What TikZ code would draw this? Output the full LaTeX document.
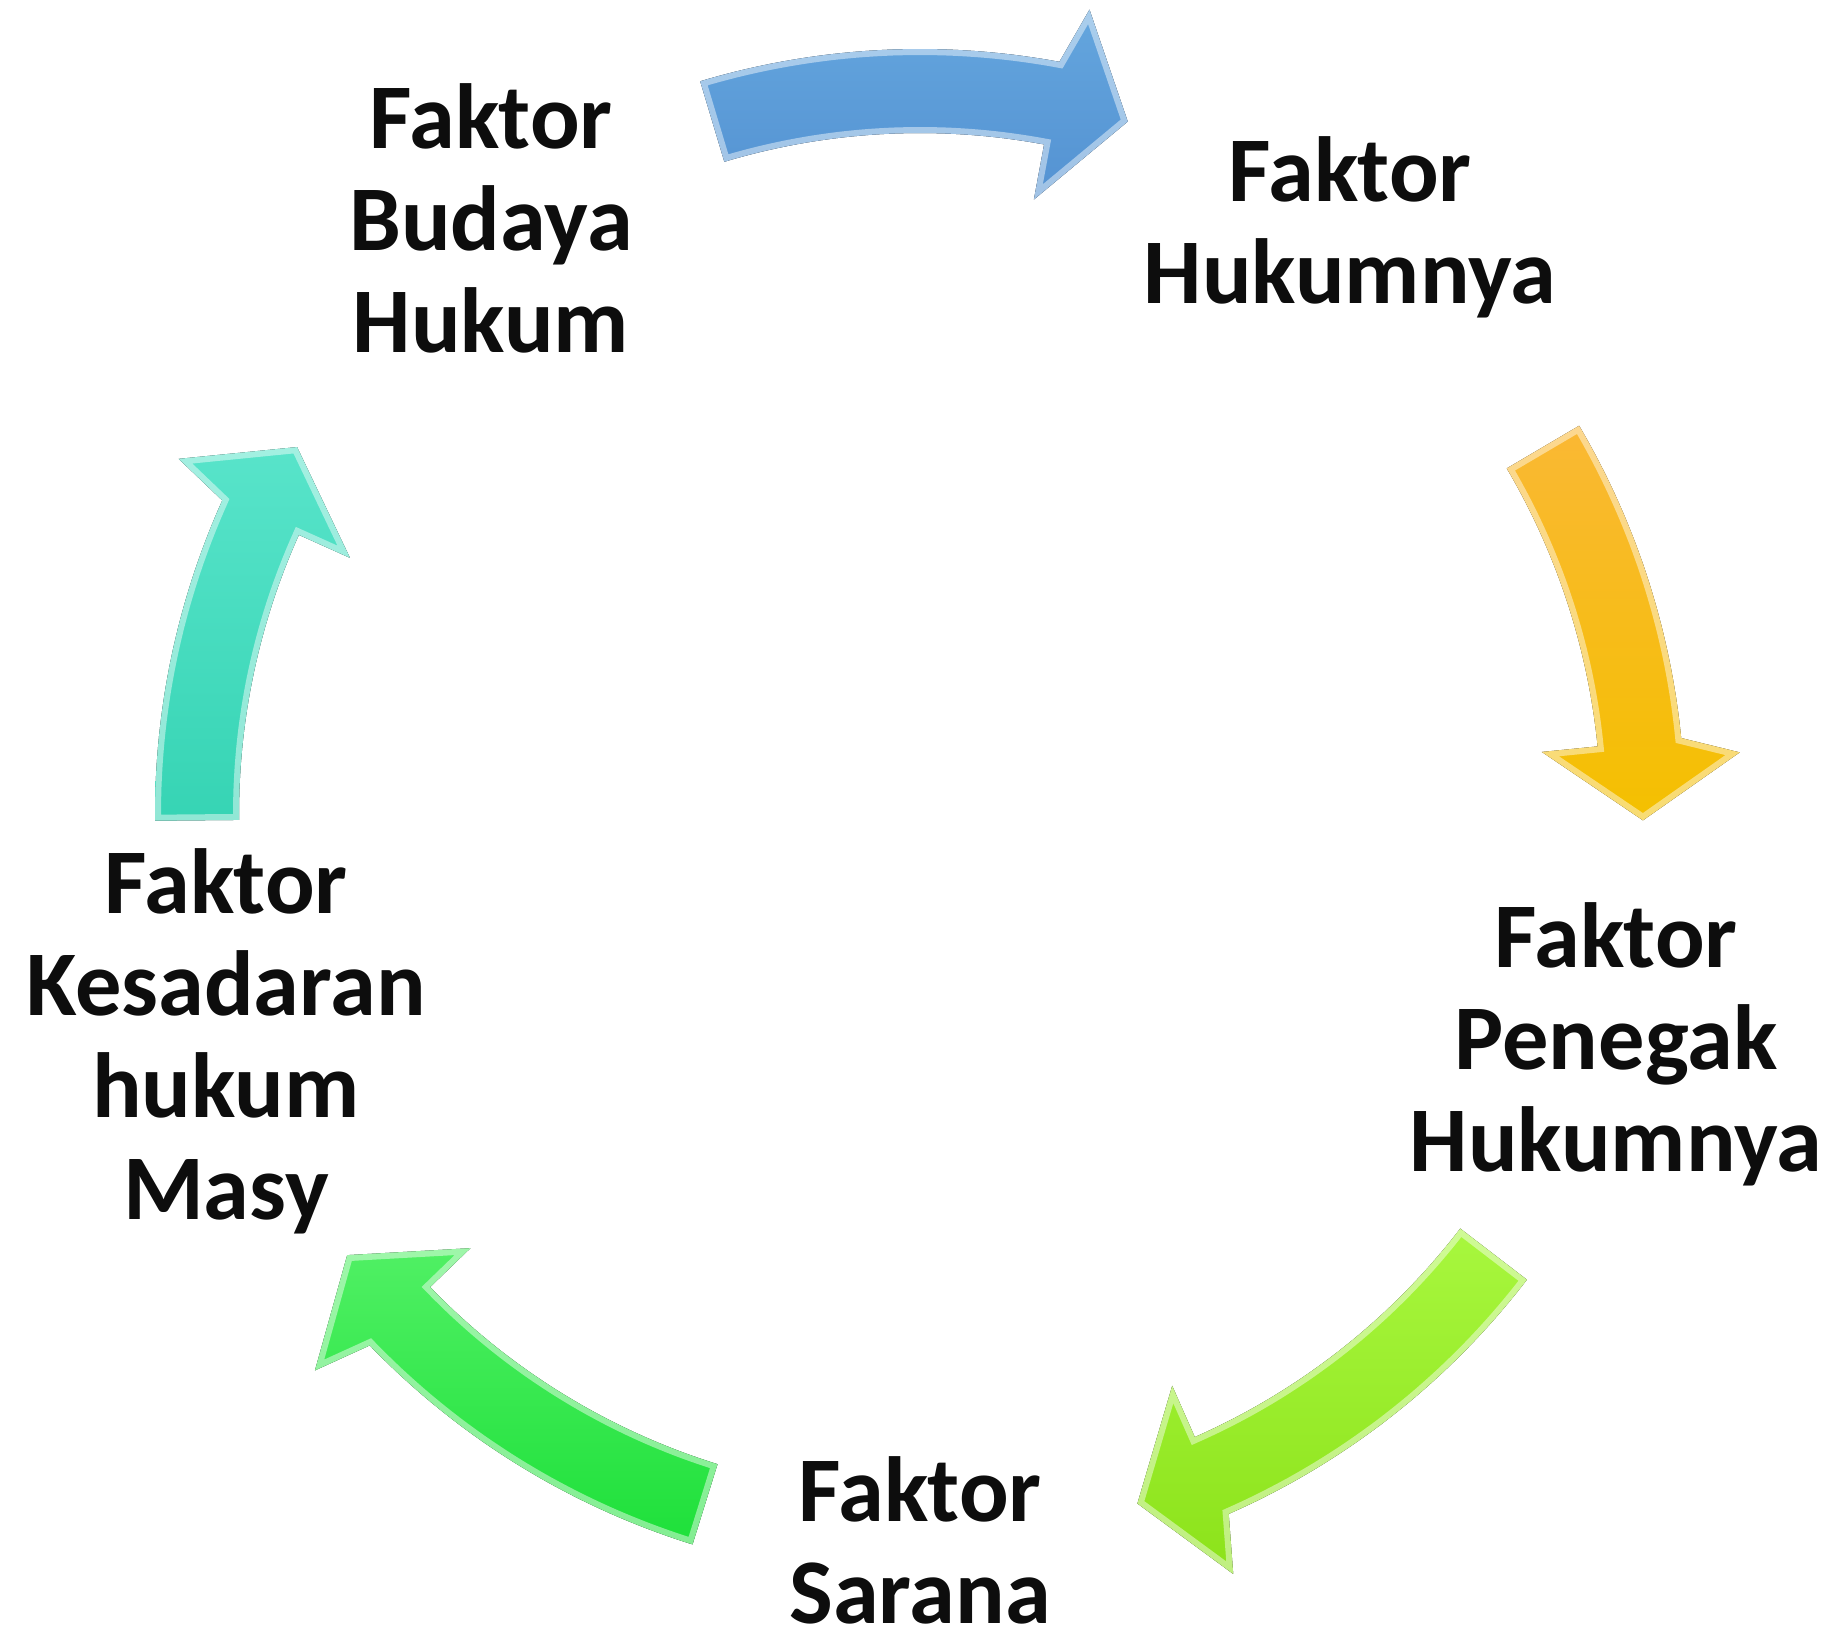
\documentclass[tikz,border=0pt]{standalone}
\usepackage{fontspec}
\setmainfont{Carlito}
\definecolor{bluetop}{RGB}{100,166,222}
\definecolor{bluebot}{RGB}{84,146,210}
\definecolor{oratop}{RGB}{250,184,52}
\definecolor{orabot}{RGB}{244,192,0}
\definecolor{limetop}{RGB}{168,247,62}
\definecolor{limebot}{RGB}{140,226,26}
\definecolor{grntop}{RGB}{80,240,100}
\definecolor{grnbot}{RGB}{30,224,58}
\definecolor{tealtop}{RGB}{88,228,202}
\definecolor{tealbot}{RGB}{54,212,180}
\tikzset{
  lbl/.style={align=center, inner sep=0pt, outer sep=0pt, anchor=north,
    font=\fontsize{92.5}{102}\selectfont\bfseries, text=black!95},
  bevel/.style={white, opacity=0.45, line width=12pt, line join=miter}
}
\newcommand\arrowpath[3]{plot[domain=#1:#2,samples=40] ({765*cos(\x)},{765*sin(\x)}) -- ({#2+1.4}:822) -- (#3:723) -- (#2:625) -- plot[domain=#2:#1,samples=40] ({681*cos(\x)},{681*sin(\x)}) -- cycle}
\newcommand\cyclearrow[5]{%
  \begin{scope}[shift={(920,814)}]
    \fill[top color=#4, bottom color=#5] \arrowpath{#1}{#2}{#3};
    \begin{scope}
      \clip \arrowpath{#1}{#2}{#3};
      \draw[bevel] \arrowpath{#1}{#2}{#3};
    \end{scope}
  \end{scope}}
\newcommand\fst{\rule{0pt}{80pt}}
\begin{document}
\begin{tikzpicture}[x=1pt,y=-1pt]
  \useasboundingbox (0,0) rectangle (1833,1626);
  % arrows
  \cyclearrow{-106.7}{-79.5}{-73.3}{bluetop}{bluebot}
  \cyclearrow{-30.5}{-5.7}{0.5}{oratop}{orabot}
  \cyclearrow{37.5}{66.2}{72.5}{limetop}{limebot}
  \cyclearrow{107.3}{136.0}{142.4}{grntop}{grnbot}
  \cyclearrow{179.5}{204.2}{210.5}{tealtop}{tealbot}
  % labels
  \node[lbl] (budaya) at (491,68) {\fst Faktor\\Budaya\\Hukum};
  \node[lbl] (hukumnya) at (1350,121) {\fst Faktor\\Hukumnya};
  \node[lbl] (penegak) at (1616,887) {\fst Faktor\\Penegak\\Hukumnya};
  \node[lbl] (sarana) at (920,1441) {\fst Faktor\\Sarana};
  \node[lbl] (kesadaran) at (226,833) {\fst Faktor\\Kesadaran\\hukum\\Masy};
\end{tikzpicture}
\end{document}
